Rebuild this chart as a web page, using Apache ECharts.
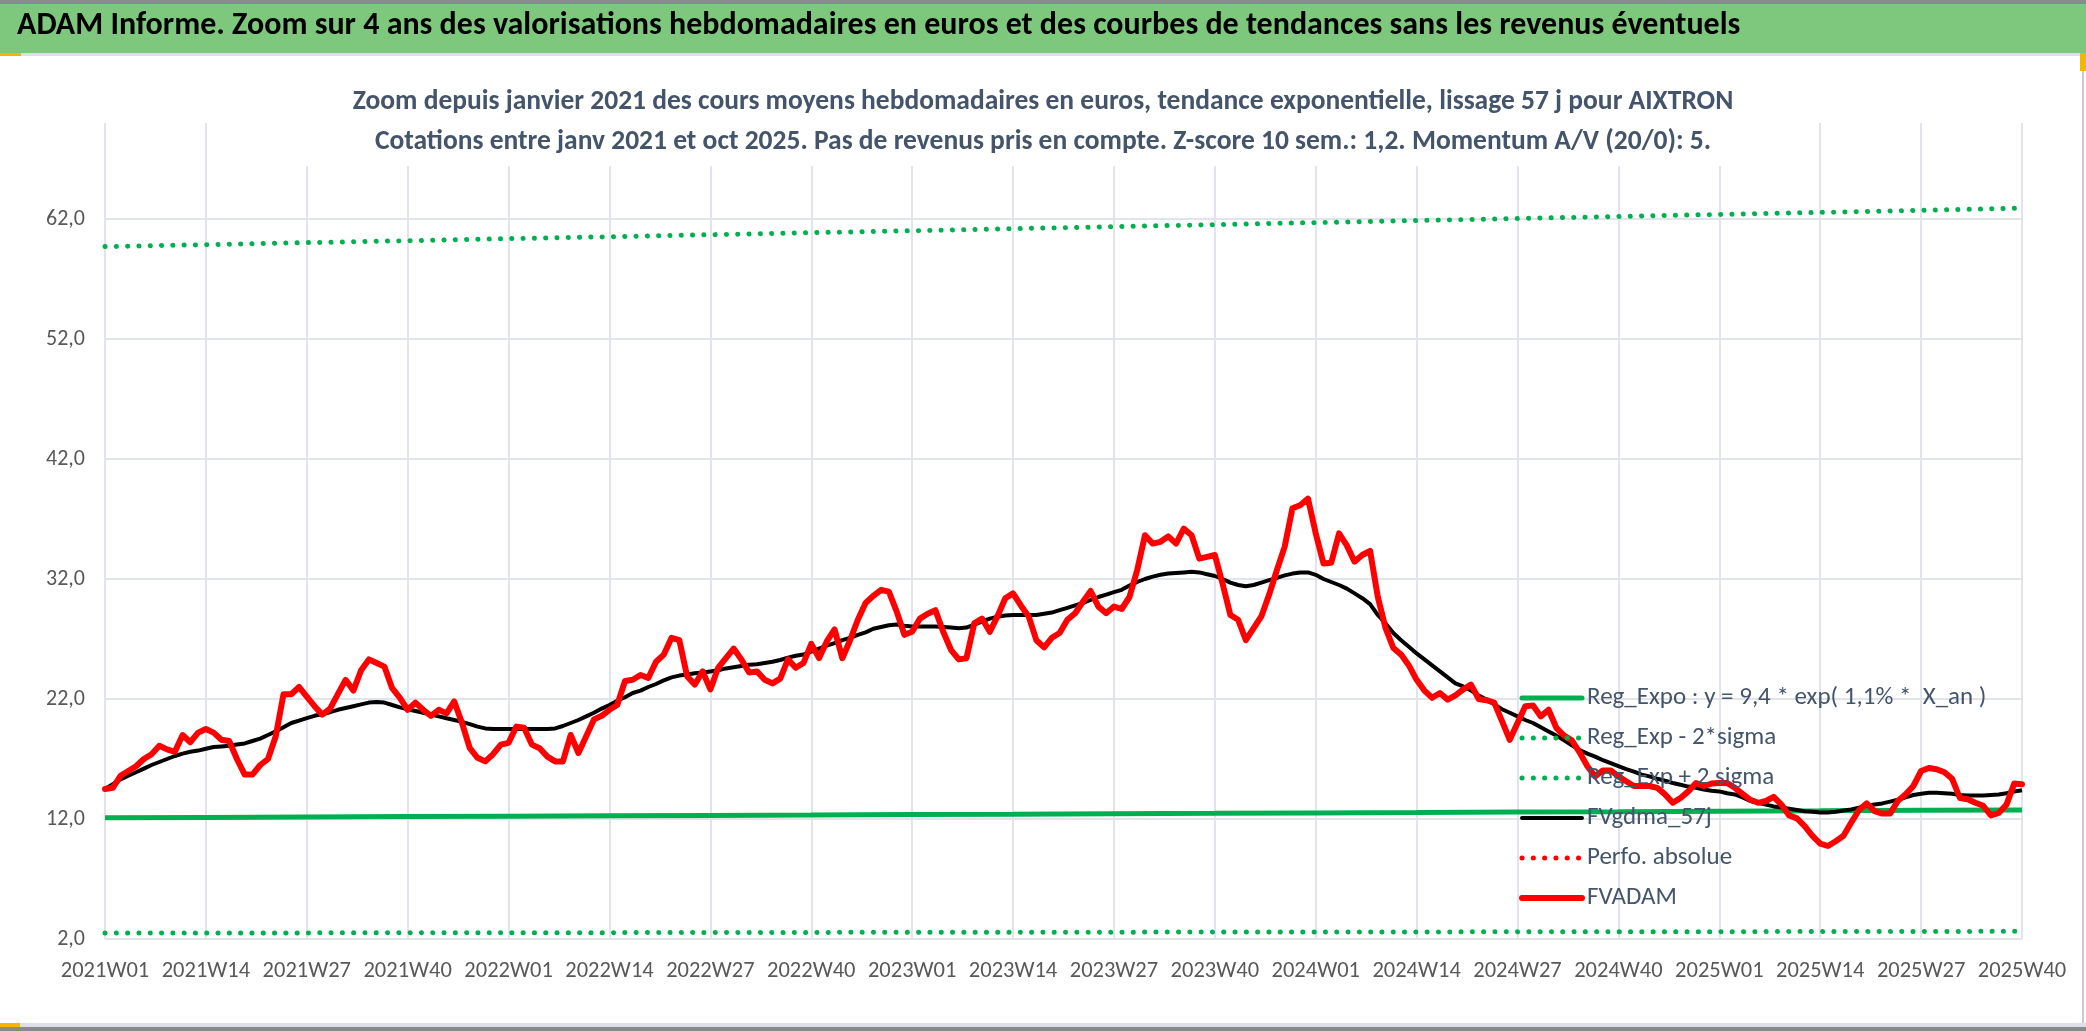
<!DOCTYPE html>
<html>
<head>
<meta charset="utf-8">
<script src="https://cdn.jsdelivr.net/npm/echarts@6/dist/echarts.min.js"></script>
<style>
html,body{margin:0;padding:0;background:#fff;}
#c{width:2086px;height:1031px;}
</style>
</head>
<body>
<div id="c"></div>
<script>
// ---- categories (ISO weeks) ----
const yearWeeks = [[2021, 52], [2022, 52], [2023, 52], [2024, 52], [2025, 40]];
const weeks = [];
for (const [y, n] of yearWeeks) for (let w = 1; w <= n; w++) weeks.push(y + 'W' + String(w).padStart(2, '0'));

// ---- tick weeks (labels every 13 weeks) ----
const tickWeeks = ['2021W01','2021W14','2021W27','2021W40','2022W01','2022W14','2022W27','2022W40',
  '2023W01','2023W14','2023W27','2023W40','2024W01','2024W14','2024W27','2024W40',
  '2025W01','2025W14','2025W27','2025W40'];

// ---- trend lines read at tick weeks ----
const regExpo = [12.10,12.13,12.17,12.20,12.23,12.27,12.30,12.33,12.37,12.40,12.44,12.47,12.51,12.54,12.58,12.61,12.65,12.68,12.72,12.75];
const regLow  = [2.50,2.51,2.51,2.52,2.53,2.53,2.54,2.55,2.56,2.56,2.57,2.58,2.58,2.59,2.60,2.61,2.61,2.62,2.63,2.64];
const regHigh = [59.70,59.86,60.03,60.19,60.36,60.52,60.69,60.86,61.02,61.19,61.36,61.53,61.70,61.87,62.04,62.21,62.38,62.55,62.72,62.90];

// ---- weekly prices (FVADAM) ----
const fvadam = [
14.5,14.6,15.6,16.0,16.4,17.0,17.4,18.1,17.8,17.6,19.0,18.4,19.2,19.5,19.2,18.6,18.5,17.0,15.7,15.7,
16.5,17.0,18.9,22.4,22.4,23.0,22.2,21.4,20.7,21.2,22.4,23.6,22.7,24.4,25.3,25.0,24.7,22.9,22.1,21.1,
21.7,21.1,20.6,21.1,20.8,21.8,20.0,17.9,17.1,16.8,17.4,18.2,18.35,19.7,19.6,18.2,17.9,17.2,16.8,16.8,
19.0,17.5,18.9,20.3,20.6,21.1,21.5,23.5,23.6,24.0,23.75,25.1,25.7,27.1,26.9,23.9,23.2,24.3,22.8,24.6,
25.4,26.2,25.3,24.2,24.3,23.6,23.3,23.7,25.3,24.6,25.0,26.6,25.4,26.8,27.8,25.4,26.9,28.6,30.0,30.6,
31.1,30.95,29.3,27.35,27.6,28.7,29.1,29.4,27.6,26.1,25.3,25.4,28.3,28.7,27.6,28.9,30.4,30.8,29.8,28.9,
26.9,26.3,27.1,27.5,28.6,29.15,30.1,31.0,29.7,29.15,29.7,29.5,30.5,32.75,35.65,34.95,35.1,35.55,34.95,36.2,
35.65,33.7,33.85,34.0,31.6,29.0,28.6,26.9,27.9,28.9,30.7,32.75,34.7,37.9,38.15,38.7,35.8,33.3,33.35,35.8,
34.8,33.45,34.0,34.35,30.5,27.9,26.25,25.7,24.8,23.6,22.7,22.1,22.5,21.95,22.3,22.8,23.2,22.0,21.9,21.7,
20.15,18.6,20.0,21.4,21.45,20.55,21.1,19.6,18.95,18.55,17.55,16.4,15.55,16.05,16.05,15.55,15.15,14.75,14.75,14.75,
14.6,14.05,13.35,13.75,14.3,15.0,14.75,14.95,15.0,15.0,14.6,14.1,13.6,13.35,13.5,13.85,13.2,12.3,12.05,11.4,
10.6,9.95,9.75,10.15,10.6,11.7,12.75,13.3,12.65,12.45,12.45,13.5,14.05,14.75,16.0,16.25,16.15,15.9,15.35,13.75,
13.65,13.35,13.1,12.3,12.5,13.2,14.95,14.9
];

// ---- 57-day smoothing (FVgdma_57j) ----
const fvgdma = [
14.5,14.9,15.3,15.6,15.9,16.2,16.5,16.75,17.0,17.25,17.45,17.6,17.7,17.85,18.0,18.05,18.1,18.2,18.3,18.5,
18.7,19.0,19.3,19.65,20.0,20.2,20.4,20.6,20.75,20.9,21.1,21.25,21.4,21.55,21.7,21.75,21.7,21.5,21.3,21.15,
21.0,20.85,20.7,20.55,20.4,20.25,20.1,19.9,19.7,19.55,19.5,19.5,19.5,19.5,19.5,19.5,19.5,19.5,19.55,19.75,
20.0,20.25,20.55,20.85,21.2,21.5,21.85,22.15,22.5,22.7,23.0,23.25,23.55,23.8,23.95,24.05,24.15,24.2,24.3,24.4,
24.55,24.65,24.75,24.85,24.9,25.0,25.1,25.25,25.45,25.6,25.7,25.95,26.2,26.45,26.65,26.9,27.1,27.35,27.55,27.85,
28.0,28.15,28.2,28.1,28.05,28.05,28.05,28.05,28.0,27.95,27.9,27.95,28.2,28.45,28.7,28.85,28.95,29.0,29.0,29.0,
29.0,29.1,29.2,29.4,29.6,29.8,30.0,30.25,30.5,30.7,30.9,31.1,31.45,31.75,32.0,32.2,32.35,32.45,32.5,32.55,
32.6,32.55,32.4,32.25,32.0,31.7,31.5,31.4,31.5,31.7,31.9,32.1,32.3,32.45,32.55,32.55,32.35,32.0,31.75,31.5,
31.2,30.8,30.4,29.9,29.0,28.3,27.5,26.9,26.35,25.8,25.3,24.8,24.3,23.8,23.3,23.05,22.7,22.3,21.95,21.55,
21.15,20.85,20.55,20.25,20.0,19.65,19.3,18.95,18.55,18.15,17.75,17.45,17.2,16.9,16.65,16.4,16.15,15.95,15.7,15.55,
15.35,15.2,15.0,14.85,14.7,14.6,14.45,14.35,14.3,14.15,14.05,13.8,13.5,13.35,13.2,13.05,12.95,12.85,12.75,12.65,
12.6,12.55,12.55,12.6,12.7,12.8,12.95,13.1,13.2,13.3,13.45,13.6,13.8,14.0,14.1,14.18,14.18,14.15,14.1,14.0,
13.96,13.96,13.96,14.0,14.05,14.15,14.3,14.4
];

// ---- "Perfo. absolue" has no visible points ----
const perfoAbsolue = [];

const FF = 'Carlito, Calibri, Lato, "Liberation Sans", sans-serif';
const chart = echarts.init(document.getElementById('c'));
const dotted = [0.1, 11.2];
const gridColor = '#e1e4ea';

chart.setOption({
  backgroundColor: '#ffffff',
  animation: false,
  graphic: [
    { type: 'rect', left: 0, top: 0, shape: { width: 2086, height: 4 }, style: { fill: '#8a8a8a' }, z: 0 },
    { type: 'rect', left: 0, top: 4, shape: { width: 2086, height: 49 }, style: { fill: '#7ec87e' }, z: 0 },
    { type: 'rect', left: 0, top: 53, shape: { width: 2086, height: 3 }, style: { fill: '#dde1e7' }, z: 0 },
    { type: 'rect', left: 0, top: 53, shape: { width: 21, height: 3 }, style: { fill: '#f2b800' }, z: 1 },
    { type: 'rect', left: 2080, top: 53, shape: { width: 6, height: 18 }, style: { fill: '#f2b800' }, z: 1 },
    { type: 'rect', left: 2082, top: 56, shape: { width: 2, height: 967 }, style: { fill: '#c8ccd2' }, z: 0 },
    { type: 'rect', left: 0, top: 1023, shape: { width: 2086, height: 4 }, style: { fill: '#dde1e7' }, z: 0 },
    { type: 'rect', left: 0, top: 1027, shape: { width: 2086, height: 4 }, style: { fill: '#8a8a8a' }, z: 0 },
    { type: 'rect', left: 0, top: 1023, shape: { width: 20, height: 4 }, style: { fill: '#f2b800' }, z: 1 },
    { type: 'rect', left: 300, top: 84, shape: { width: 1490, height: 82 }, style: { fill: '#ffffff' }, z: 5 }
  ],
  title: [
    { text: 'ADAM Informe. Zoom sur 4 ans des valorisations hebdomadaires en euros et des courbes de tendances sans les revenus éventuels',
      left: 17, top: 10, padding: 0,
      textStyle: { fontFamily: FF, fontSize: 32, fontWeight: 'bold', color: '#000000' } },
    { text: 'Zoom depuis janvier 2021 des cours moyens hebdomadaires en euros, tendance exponentielle, lissage 57 j pour AIXTRON',
      left: 'center', top: 88, padding: 0,
      textStyle: { fontFamily: FF, fontSize: 27.5, fontWeight: 'bold', color: '#44546A' } },
    { text: 'Cotations entre janv 2021 et oct 2025. Pas de revenus pris en compte. Z-score 10 sem.: 1,2. Momentum A/V (20/0): 5.',
      left: 'center', top: 128, padding: 0,
      textStyle: { fontFamily: FF, fontSize: 27.5, fontWeight: 'bold', color: '#44546A' } }
  ],
  legend: {
    orient: 'vertical', left: 1514, top: 680,
    itemWidth: 60, itemHeight: 14, itemGap: 14,
    itemStyle: { opacity: 0 },
    lineStyle: { width: 'inherit', type: 'inherit', cap: 'round' },
    textStyle: { fontFamily: FF, fontSize: 25, color: '#44546A', lineHeight: 26 },
    data: ['Reg_Expo : y = 9,4 * exp( 1,1% *  X_an )', 'Reg_Exp - 2*sigma', 'Reg_Exp + 2 sigma', 'FVgdma_57j', 'Perfo. absolue', 'FVADAM']
  },
  grid: { left: 105, right: 64, top: 123, bottom: 92, containLabel: false },
  xAxis: {
    type: 'category', data: weeks, boundaryGap: false,
    axisLine: { show: false }, axisTick: { show: false },
    axisLabel: { interval: 12, margin: 21, fontFamily: FF, fontSize: 22.5, color: '#595959' },
    splitLine: { show: true, interval: 12, lineStyle: { color: gridColor, width: 2 } }
  },
  yAxis: {
    type: 'value', min: 2, max: 70, interval: 10,
    axisLine: { show: false }, axisTick: { show: false },
    axisLabel: { margin: 20, showMaxLabel: false, fontFamily: FF, fontSize: 22, color: '#595959',
      formatter: v => v.toFixed(1).replace('.', ',') },
    splitLine: { show: true, lineStyle: { color: [gridColor, gridColor, gridColor, gridColor, gridColor, gridColor, gridColor, 'rgba(0,0,0,0)'], width: 2 } }
  },
  series: [
    { name: 'Reg_Expo : y = 9,4 * exp( 1,1% *  X_an )', type: 'line', symbol: 'none',
      data: tickWeeks.map((w, k) => [w, regExpo[k]]),
      lineStyle: { color: '#00B050', width: 5 }, itemStyle: { color: '#00B050' } },
    { name: 'Reg_Exp - 2*sigma', type: 'line', symbol: 'none',
      data: tickWeeks.map((w, k) => [w, regLow[k]]),
      lineStyle: { color: '#00B050', width: 5, type: dotted, cap: 'round' }, itemStyle: { color: '#00B050' } },
    { name: 'Reg_Exp + 2 sigma', type: 'line', symbol: 'none',
      data: tickWeeks.map((w, k) => [w, regHigh[k]]),
      lineStyle: { color: '#00B050', width: 5, type: dotted, cap: 'round' }, itemStyle: { color: '#00B050' } },
    { name: 'FVgdma_57j', type: 'line', symbol: 'none', data: fvgdma,
      lineStyle: { color: '#000000', width: 4, join: 'round' }, itemStyle: { color: '#000000' } },
    { name: 'Perfo. absolue', type: 'line', symbol: 'none', data: perfoAbsolue,
      lineStyle: { color: '#FF0000', width: 5, type: dotted, cap: 'round' }, itemStyle: { color: '#FF0000' } },
    { name: 'FVADAM', type: 'line', symbol: 'none', data: fvadam,
      lineStyle: { color: '#FF0000', width: 6, join: 'round', cap: 'round' }, itemStyle: { color: '#FF0000' } }
  ]
});
</script>
</body>
</html>
